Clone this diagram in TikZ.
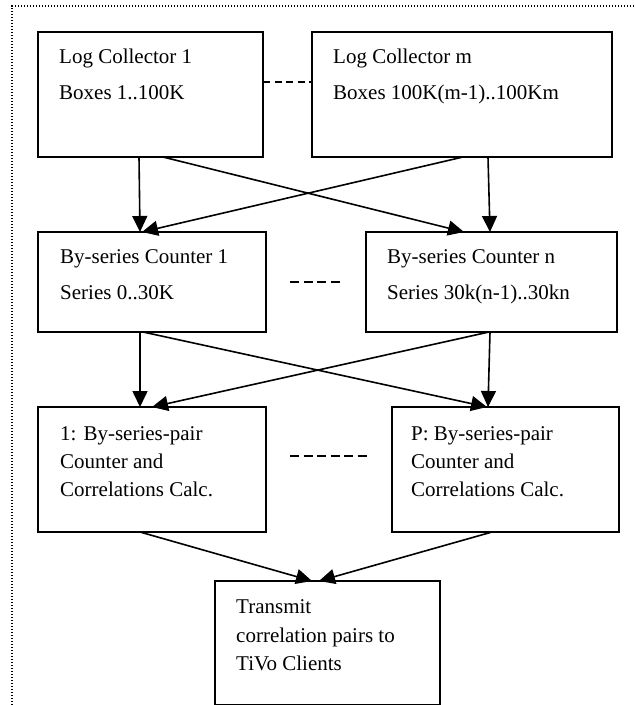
\documentclass[tikz,border=0pt]{standalone}
\usepackage{fontspec}
\setmainfont{Liberation Serif}
\usetikzlibrary{arrows.meta,calc}
\begin{document}
\begin{tikzpicture}[x=1pt,y=-1pt,
  box/.style={draw,line width=2pt,inner sep=0pt,outer sep=0pt},
  txt/.style={anchor=base west,inner sep=0pt,font=\fontsize{21}{28}\selectfont},
  conn/.style={line width=1.6pt,-{Triangle[length=16pt,width=15pt]}},
  dashline/.style={line width=1.6pt,dash pattern=on 9pt off 4.5pt},
  frame/.style={line width=1.2pt,dash pattern=on 1.2pt off 1.8pt}]
\useasboundingbox (0,0) rectangle (635,705);
% frame
\coordinate (ftr) at (640,6);
\coordinate (ftl) at (12,6);
\coordinate (fbl) at (12,710);
\draw[frame] (ftr) -- (ftl) -- (fbl);
% boxes
\node[box,minimum width=225pt,minimum height=125pt] (lc1) at (150.5,94.5) {};
\node[box,minimum width=300pt,minimum height=125pt] (lcm) at (462,94.5) {};
\node[box,minimum width=228pt,minimum height=100pt] (bc1) at (152,282) {};
\node[box,minimum width=251pt,minimum height=100pt] (bcn) at (491.5,282) {};
\node[box,minimum width=228pt,minimum height=125pt] (pc1) at (152,469.5) {};
\node[box,minimum width=227pt,minimum height=125pt] (pcp) at (505.5,469.5) {};
\node[box,minimum width=225pt,minimum height=124pt] (tx) at (327.5,643) {};
% texts
\node[txt] (t1a) at (59,63) {Log Collector 1};
\node[txt] (t1b) at (59,99) {Boxes 1..100K};
\node[txt] (tma) at (333,63) {Log Collector m};
\node[txt] (tmb) at (333,99) {Boxes 100K(m-1)..100Km};
\node[txt] (b1a) at (60,263) {By-series Counter 1};
\node[txt] (b1b) at (60,299) {Series 0..30K};
\node[txt] (bna) at (387,263) {By-series Counter n};
\node[txt] (bnb) at (387,299) {Series 30k(n-1)..30kn};
\node[txt] (p1a) at (60,440) {1: By-series-pair};
\node[txt] (p1b) at (60,468) {Counter and};
\node[txt] (p1c) at (60,496) {Correlations Calc.};
\node[txt] (ppa) at (411,440) {P: By-series-pair};
\node[txt] (ppb) at (411,468) {Counter and};
\node[txt] (ppc) at (411,496) {Correlations Calc.};
\node[txt] (xa) at (236,613) {Transmit};
\node[txt] (xb) at (236,642) {correlation pairs to};
\node[txt] (xc) at (236,670) {TiVo Clients};
% dashed links
\draw[line width=1.6pt,dash pattern=on 7pt off 4.5pt] ($(lc1.north east)+(0,50)$) -- ($(lcm.north west)+(0,50)$);
\coordinate (d2a) at (290,282);
\coordinate (d2b) at (340,282);
\draw[dashline] (d2a) -- (d2b);
\coordinate (d3a) at (290,456);
\coordinate (d3b) at (368,456);
\draw[dashline] (d3a) -- (d3b);
% row 1 -> row 2
\draw[conn] ($(lc1.south west)+(101,0)$) -- ($(bc1.north west)+(102,0)$);
\draw[conn] ($(lc1.south west)+(125,0)$) -- ($(bcn.north west)+(98,0)$);
\draw[conn] ($(lcm.south west)+(151,0)$) -- ($(bc1.north west)+(104,0)$);
\draw[conn] ($(lcm.south west)+(176,0)$) -- ($(bcn.north west)+(124,0)$);
% row 2 -> row 3
\draw[conn] ($(bc1.south west)+(102,0)$) -- ($(pc1.north west)+(102,0)$);
\draw[conn] ($(bc1.south west)+(105,0)$) -- ($(pcp.north west)+(95,0)$);
\draw[conn] ($(bcn.south west)+(123,0)$) -- ($(pc1.north west)+(114,0)$);
\draw[conn] ($(bcn.south west)+(124,0)$) -- ($(pcp.north west)+(96,0)$);
% row 3 -> final
\draw[conn] ($(pc1.south west)+(102,0)$) -- ($(tx.north west)+(97,0)$);
\draw[conn] ($(pcp.south west)+(100,0)$) -- ($(tx.north west)+(104,0)$);
\end{tikzpicture}
\end{document}
